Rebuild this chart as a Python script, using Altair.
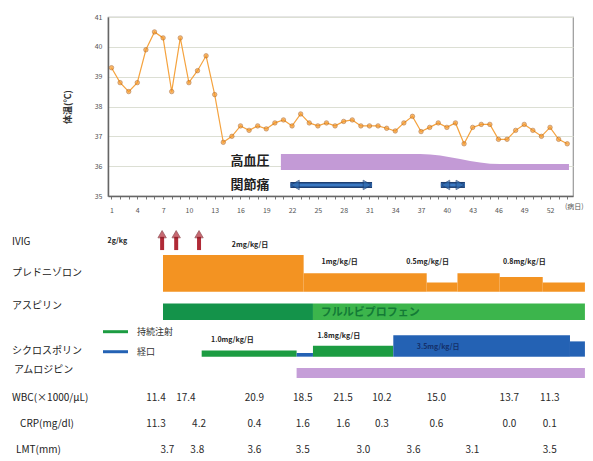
import altair as alt
import pandas as pd

FONT = "Noto Sans CJK JP"

# ---------------- body temperature, illness days 1-54 ----------------
days = list(range(1, 55))
temps = [39.3, 38.8, 38.5, 38.8, 39.9, 40.5, 40.3, 38.5, 40.3, 38.8,
         39.2, 39.7, 38.4, 36.8, 37.0, 37.35, 37.2, 37.35, 37.25, 37.45,
         37.55, 37.35, 37.75, 37.45, 37.35, 37.45, 37.35, 37.5, 37.55, 37.35,
         37.35, 37.35, 37.27, 37.18, 37.45, 37.67, 37.16, 37.3, 37.45, 37.3,
         37.45, 36.75, 37.3, 37.4, 37.4, 36.9, 36.9, 37.2, 37.4, 37.2,
         37.0, 37.3, 36.9, 36.75]

# hypertension band (illness day, upper edge)
htn_days = [20.7, 36.9, 46.2, 54.2]
htn_top = [36.41, 36.41, 36.07, 36.07]
htn_bottom = 35.87

# arthralgia periods (illness days)
joint_start = [21.8, 39.3]
joint_end = [31.3, 42.1]

# ---------------- treatment timeline ----------------
ivig_days = [5.9, 7.5, 10.1]

pred_start = [6.0, 22.0, 36.0, 39.5, 44.3, 49.2]
pred_end = [22.0, 36.0, 39.5, 44.3, 49.2, 54.0]
pred_dose = [2.0, 1.0, 0.5, 1.0, 0.8, 0.5]

nsaid_name = ["アスピリン", "フルルビプロフェン"]
nsaid_start = [6.0, 23.06]
nsaid_end = [23.06, 54.0]

cyclo_route = ["持続注射", "経口", "持続注射", "経口", "経口"]
cyclo_start = [10.4, 21.2, 23.06, 32.2, 52.3]
cyclo_end = [21.2, 23.06, 32.2, 52.3, 54.0]
cyclo_dose = [1.0, 0.6, 1.8, 3.5, 2.5]

amlo_start = [21.2]
amlo_end = [54.0]

row_labels = ["IVIG", "プレドニゾロン", "アスピリン", "シクロスポリン", "アムロジピン",
              "WBC(×1000/μL)", "CRP(mg/dl)", "LMT(mm)"]

wbc_days = [5.2, 8.6, 16.4, 21.9, 26.5, 30.9, 37.1, 45.4, 50.0]
wbc = [11.4, 17.4, 20.9, 18.5, 21.5, 10.2, 15.0, 13.7, 11.3]
crp_days = [5.2, 10.1, 16.4, 21.9, 26.5, 30.9, 37.1, 45.4, 50.0]
crp = [11.3, 4.2, 0.4, 1.6, 1.6, 0.3, 0.6, 0.0, 0.1]
lmt_days = [6.5, 9.9, 16.4, 21.9, 28.8, 34.5, 41.2, 50.0]
lmt = [3.7, 3.8, 3.6, 3.5, 3.0, 3.6, 3.1, 3.5]

dose_text = ["2g/kg", "2mg/kg/日", "1mg/kg/日", "0.5mg/kg/日", "0.8mg/kg/日",
             "1.0mg/kg/日", "1.8mg/kg/日", "3.5mg/kg/日"]

# ---------------- layout (lanes of the timeline, label placement, colours) ----------------
ROW_LANE = [0.5, 1.69, 2.96, 4.68, 5.42, 6.5, 7.5, 8.5]
ROW_X = [-96, -96, -96, -96, -94, -96, -88, -92]
PRED_BASE, PRED_PER_MG = 2.41, 0.705
CYCLO_BASE, CYCLO_PER_MG = 4.91, 0.235
NSAID_LANE = (2.87, 3.5)
AMLO_LANE = (5.35, 5.73)
DOSE_POS = [(0.8, 0.46), (15.9, 0.62), (26.1, 1.27), (36.1, 1.27), (47.1, 1.27),
            (13.9, 4.27), (26.0, 4.12), (37.3, 4.54)]
NSAID_COLOR = {"アスピリン": "#14934a", "フルルビプロフェン": "#3cb54c"}
ROUTE_COLOR = {"持続注射": "#1c9c42", "経口": "#2462b4"}

# ---------------- scales ----------------
axis_x_top = alt.Axis(values=days, labelExpr="(datum.value - 1) % 3 == 0 ? datum.label : ''",
                      labelFontSize=7, labelColor="#555", labelFont=FONT, labelPadding=7,
                      tickSize=3, tickColor="#777", domainColor="#666", domainWidth=1.5,
                      grid=False, title=None)
axis_y_top = alt.Axis(values=[35, 36, 37, 38, 39, 40, 41], labelFontSize=7, labelColor="#555",
                      labelFont=FONT, labelPadding=6, tickSize=0, domainColor="#666",
                      domainWidth=1.5, grid=True, gridColor="#dcdfd4", gridWidth=1,
                      title="体温(℃)", titleFont=FONT, titleFontSize=9, titleColor="#333",
                      titleFontWeight="bold", titlePadding=22)

X_TOP = alt.X("day:Q", scale=alt.Scale(domain=[0.593, 54.67], nice=False, zero=False), axis=axis_x_top)
Y_TOP = alt.Y("temp:Q", scale=alt.Scale(domain=[35, 41], nice=False, zero=False), axis=axis_y_top)

X_LOW = alt.X("t:Q", scale=alt.Scale(domain=[0, 60], range=[2.26, 529.66], nice=False, zero=False), axis=None)
Y_LOW = alt.Y("lane:Q", scale=alt.Scale(domain=[0, 10], range=[212, 472], nice=False, zero=False), axis=None)
FILL = alt.Color("fill:N", scale=None)

# ---------------- top panel ----------------
temp_df = pd.DataFrame({"day": days, "temp": temps})
temp_line = alt.Chart(temp_df).mark_line(color="#f5a33f", strokeWidth=1.2).encode(x=X_TOP, y=Y_TOP)
temp_pts = alt.Chart(temp_df).mark_point(filled=True, size=20, color="#f79a2a",
                                         stroke="#a45a1e", strokeWidth=0.7).encode(x=X_TOP, y=Y_TOP)

htn_df = pd.DataFrame({"day": htn_days, "temp": htn_top, "temp2": [htn_bottom] * len(htn_days)})
htn_band = alt.Chart(htn_df).mark_area(color="#c39ad6", interpolate="monotone").encode(
    x=X_TOP, y=Y_TOP, y2="temp2:Q")

joint_df = pd.DataFrame({"day": joint_start, "day2": joint_end, "temp": [35.37] * 2})
joint_outer = alt.Chart(joint_df).mark_rule(color="#1d3f73", strokeWidth=6).encode(
    x=X_TOP, x2="day2:Q", y=Y_TOP)
joint_inner = alt.Chart(joint_df).mark_rule(color="#3a78c2", strokeWidth=3).encode(
    x=X_TOP, x2="day2:Q", y=Y_TOP)
heads_l = pd.DataFrame({"day": [s + 0.55 for s in joint_start], "temp": [35.37] * 2})
heads_r = pd.DataFrame({"day": [e - 0.55 for e in joint_end], "temp": [35.37] * 2})
joint_hl = alt.Chart(heads_l).mark_point(shape="triangle-left", filled=True, size=90,
                                         color="#2f6aae", stroke="#1d3f73", strokeWidth=1).encode(x=X_TOP, y=Y_TOP)
joint_hr = alt.Chart(heads_r).mark_point(shape="triangle-right", filled=True, size=90,
                                         color="#2f6aae", stroke="#1d3f73", strokeWidth=1).encode(x=X_TOP, y=Y_TOP)

top_text_df = pd.DataFrame({"day": [17.1, 17.1], "temp": [36.17, 35.37], "label": ["高血圧", "関節痛"]})
top_text = alt.Chart(top_text_df).mark_text(font=FONT, fontSize=13, fontWeight="bold",
                                            color="#222").encode(x=X_TOP, y=Y_TOP, text="label:N")
unit_text = alt.Chart(pd.DataFrame({"label": ["(病日)"]})).mark_text(
    font=FONT, fontSize=7, color="#555", align="left", baseline="top").encode(
    x=alt.value(457), y=alt.value(186), text="label:N")

top = alt.layer(htn_band, joint_outer, joint_inner, joint_hl, joint_hr, top_text,
                temp_line, temp_pts, unit_text)

# ---------------- bottom panel ----------------
labels_df = pd.DataFrame({"label": row_labels, "lane": ROW_LANE, "px": ROW_X})
row_text = alt.Chart(labels_df).mark_text(font=FONT, fontSize=10, color="#222",
                                          align="left", baseline="middle").encode(
    x=alt.X("px:Q", scale=None), y=Y_LOW, text="label:N")

ivig_df = pd.DataFrame({"t": ivig_days, "lane": [0.81] * 3, "lane2": [0.3] * 3})
ivig_shaft = alt.Chart(ivig_df).mark_rule(color="#b02a36", strokeWidth=4).encode(
    x=X_LOW, y=Y_LOW, y2="lane2:Q")
ivig_head = alt.Chart(pd.DataFrame({"t": ivig_days, "lane": [0.2] * 3})).mark_point(
    shape="triangle-up", filled=True, size=70, color="#b02a36", stroke="#6e1620",
    strokeWidth=0.8).encode(x=X_LOW, y=Y_LOW)

pred_df = pd.DataFrame({"t": pred_start, "t2": pred_end, "dose": pred_dose})
pred_df["lane"] = PRED_BASE - pred_df["dose"] * PRED_PER_MG
pred_df["lane2"] = PRED_BASE
pred_bar = alt.Chart(pred_df).mark_rect(color="#f39322").encode(
    x=X_LOW, x2="t2:Q", y=Y_LOW, y2="lane2:Q")

nsaid_df = pd.DataFrame({"t": nsaid_start, "t2": nsaid_end, "name": nsaid_name,
                         "lane": [NSAID_LANE[0]] * 2, "lane2": [NSAID_LANE[1]] * 2})
nsaid_df["fill"] = nsaid_df["name"].map(NSAID_COLOR)
nsaid_bar = alt.Chart(nsaid_df).mark_rect().encode(
    x=X_LOW, x2="t2:Q", y=Y_LOW, y2="lane2:Q", color=FILL)
flur_text = alt.Chart(pd.DataFrame({"t": [nsaid_start[1] + 0.9], "lane": [3.22], "label": [nsaid_name[1]]})).mark_text(
    font=FONT, fontSize=11, fontWeight="bold", color="#137a36", align="left", baseline="middle").encode(
    x=X_LOW, y=Y_LOW, text="label:N")

cyc_df = pd.DataFrame({"t": cyclo_start, "t2": cyclo_end, "route": cyclo_route, "dose": cyclo_dose})
cyc_df["lane"] = CYCLO_BASE - cyc_df["dose"] * CYCLO_PER_MG
cyc_df["lane2"] = CYCLO_BASE
cyc_df["fill"] = cyc_df["route"].map(ROUTE_COLOR)
cyc_bar = alt.Chart(cyc_df).mark_rect().encode(
    x=X_LOW, x2="t2:Q", y=Y_LOW, y2="lane2:Q", color=FILL)

leg_df = pd.DataFrame({"route": ["持続注射", "経口"], "lane": [3.95, 4.72]})
leg_df["fill"] = leg_df["route"].map(ROUTE_COLOR)
leg_line = alt.Chart(leg_df).mark_rule(strokeWidth=3).encode(
    x=alt.value(-5), x2=alt.value(20), y=Y_LOW, color=FILL)
leg_text = alt.Chart(leg_df).mark_text(font=FONT, fontSize=9, color="#333", align="left",
                                       baseline="middle").encode(x=alt.value(29), y=Y_LOW, text="route:N")

amlo_df = pd.DataFrame({"t": amlo_start, "t2": amlo_end, "lane": [AMLO_LANE[0]], "lane2": [AMLO_LANE[1]]})
amlo_bar = alt.Chart(amlo_df).mark_rect(color="#c59ed8").encode(x=X_LOW, x2="t2:Q", y=Y_LOW, y2="lane2:Q")

dose_df = pd.DataFrame({"label": dose_text, "t": [p[0] for p in DOSE_POS], "lane": [p[1] for p in DOSE_POS],
                        "fill": ["#222"] * 7 + ["#14306a"]})
dose_lbl = alt.Chart(dose_df).mark_text(font=FONT, fontSize=7, fontWeight="bold", baseline="middle").encode(
    x=X_LOW, y=Y_LOW, text="label:N", color=FILL)

lab_df = pd.concat([
    pd.DataFrame({"t": wbc_days, "v": wbc, "lane": ROW_LANE[5]}),
    pd.DataFrame({"t": crp_days, "v": crp, "lane": ROW_LANE[6]}),
    pd.DataFrame({"t": lmt_days, "v": lmt, "lane": ROW_LANE[7]}),
])
lab_text = alt.Chart(lab_df).mark_text(font=FONT, fontSize=10, color="#2a2a2a", baseline="middle").encode(
    x=X_LOW, y=Y_LOW, text=alt.Text("v:Q", format=".1f"))

bottom = alt.layer(pred_bar, nsaid_bar, flur_text, cyc_bar, amlo_bar, ivig_shaft, ivig_head,
                   leg_line, leg_text, dose_lbl, lab_text, row_text)

chart = alt.layer(top, bottom).resolve_scale(
    x="independent", y="independent"
).properties(
    width=465, height=179, autosize="none",
    padding={"left": 108, "top": 17, "right": 20, "bottom": 265},
    background="white",
).configure_view(stroke="#9a9a9a", strokeWidth=1.2)

chart.save("out.html", embed_options={"renderer": "svg", "actions": False})
